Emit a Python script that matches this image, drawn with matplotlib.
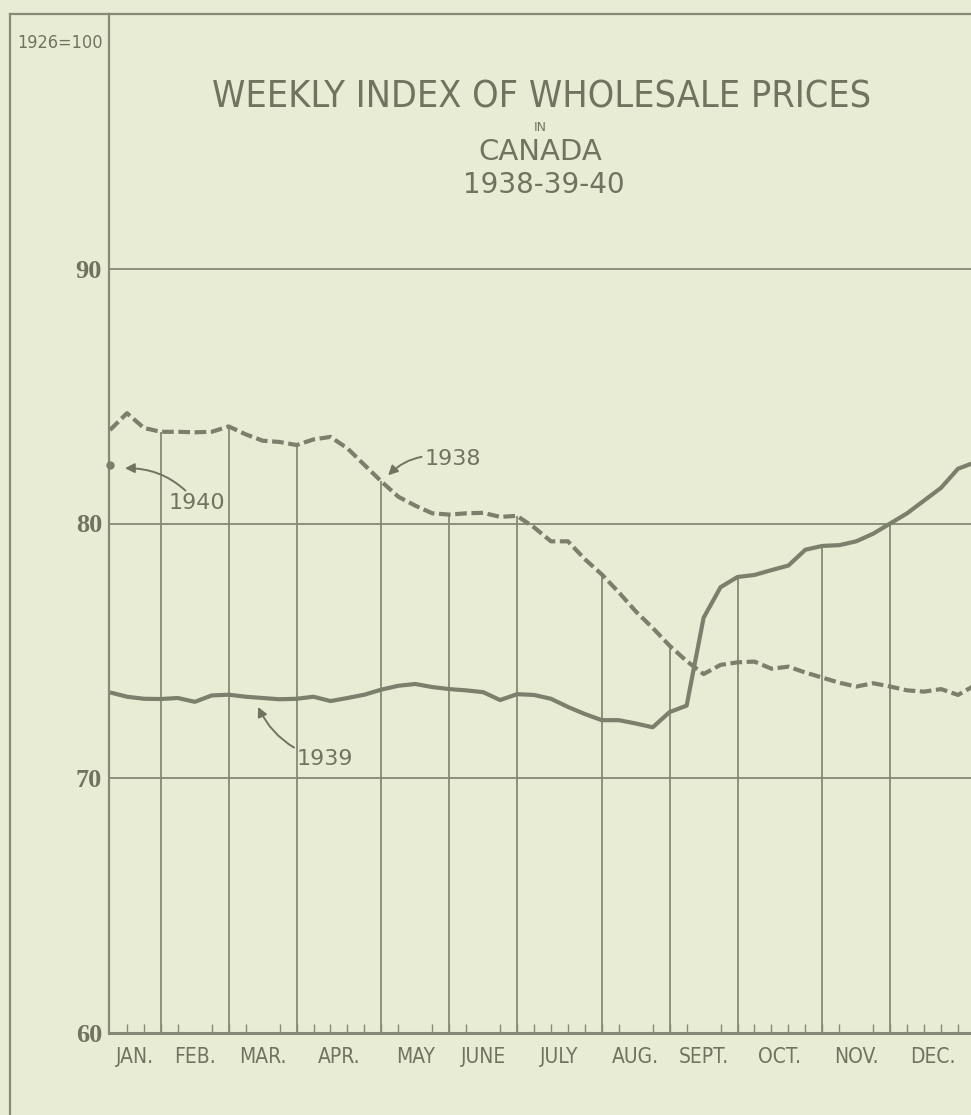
import matplotlib
matplotlib.use("Agg")
import matplotlib.pyplot as plt
from matplotlib.lines import Line2D
from matplotlib.font_manager import FontProperties
import matplotlib.font_manager as fm
import numpy as np

# ---------------- data ----------------
weeks = list(range(52))
index_1938 = [83.67, 84.33, 83.75, 83.60, 83.60, 83.58, 83.60, 83.81, 83.50, 83.25,
              83.20, 83.08, 83.30, 83.40, 82.95, 82.30, 81.65, 81.05, 80.70, 80.40,
              80.35, 80.40, 80.42, 80.26, 80.30, 79.85, 79.30, 79.30, 78.60, 78.00,
              77.30, 76.55, 75.90, 75.20, 74.60, 74.09, 74.45, 74.55, 74.58, 74.30,
              74.38, 74.15, 73.95, 73.75, 73.60, 73.73, 73.60, 73.45, 73.40, 73.50,
              73.27, 73.65]
index_1939 = [73.37, 73.20, 73.12, 73.11, 73.15, 73.00, 73.25, 73.28, 73.20, 73.15,
              73.10, 73.12, 73.20, 73.03, 73.15, 73.28, 73.48, 73.63, 73.70, 73.58,
              73.50, 73.45, 73.38, 73.07, 73.30, 73.27, 73.12, 72.80, 72.52, 72.28,
              72.28, 72.15, 72.00, 72.60, 72.85, 76.30, 77.50, 77.90, 77.98, 78.17,
              78.35, 78.97, 79.12, 79.15, 79.30, 79.60, 80.00, 80.40, 80.90, 81.40,
              82.15, 82.40]
weeks_1940 = [0]
index_1940 = [82.3]
months = ["JAN.", "FEB.", "MAR.", "APR.", "MAY", "JUNE", "JULY", "AUG.",
          "SEPT.", "OCT.", "NOV.", "DEC."]
weeks_per_month = [3, 4, 4, 5, 4, 4, 5, 4, 4, 5, 4, 5]
y_ticks = [60, 70, 80, 90]

# ---------------- style ----------------
BG = "#e8ecd4"
INK = "#70745f"
LINE = "#7b806c"
GRID = "#858a76"

# find a condensed sans face if one is installed
cond_path = None
prefs = ["liberationsansnarrow-regular", "dejavusanscondensed.ttf",
         "robotocondensed-regular", "opensans_condensed-regular",
         "opensans-condensedregular", "notosans-condensed"]
files = [f.fname for f in fm.fontManager.ttflist]
for p in prefs:
    for fn in files:
        if p in fn.lower().replace(" ", ""):
            cond_path = fn
            break
    if cond_path:
        break
if cond_path is None:
    for fn in files:
        low = fn.lower()
        if ("condensed" in low or "narrow" in low) and not any(
                k in low for k in ["bold", "italic", "oblique", "serif", "mono", "light",
                                   "black", "semi", "medium", "thin", "extra"]):
            cond_path = fn
            break

def narrow(size):
    if cond_path:
        return FontProperties(fname=cond_path, size=size)
    return FontProperties(family="DejaVu Sans", size=size * 0.85)

SANS = "DejaVu Sans"
SERIF = "Liberation Serif"

W, H = 971, 1115
fig = plt.figure(figsize=(W / 100, H / 100), dpi=100, facecolor=BG)
ax_l, ax_r, ax_t, ax_b = 109, 971, 14, 1033
ax = fig.add_axes([ax_l / W, 1 - ax_b / H, (ax_r - ax_l) / W, (ax_b - ax_t) / H])
ax.set_facecolor(BG)

px_per_week = 16.96
ax.set_xlim(-(110 - ax_l) / px_per_week, (ax_r - 110) / px_per_week)
ax.set_ylim(60, 100)

# horizontal grid
for v in [70, 80, 90]:
    ax.axhline(v, color=GRID, lw=1.3, zorder=1)

# month boundaries: vertical lines up to the upper curve
bounds = np.concatenate([[0], np.cumsum(weeks_per_month)])
for b in bounds[1:-1]:
    top = max(index_1938[b], index_1939[b])
    ax.vlines(weeks[b], 60, top, color=GRID, lw=1.3, zorder=1)

# curves
ax.plot(weeks, index_1938, color=LINE, lw=3.0, linestyle=(0, (2.8, 1.1)),
        solid_joinstyle="round", zorder=3)
ax.plot(weeks, index_1939, color=LINE, lw=3.0, solid_joinstyle="round",
        solid_capstyle="butt", zorder=3)
ax.plot(weeks_1940, index_1940, "o", color=LINE, ms=5, zorder=4, clip_on=False)

# spines
ax.spines["right"].set_visible(False)
for s in ["top", "left"]:
    ax.spines[s].set_color(GRID)
    ax.spines[s].set_linewidth(1.6)
ax.spines["bottom"].set_color(GRID)
ax.spines["bottom"].set_linewidth(2.2)

# ticks
centers = [(bounds[i] + bounds[i + 1]) / 2 for i in range(12)]
ax.set_xticks(centers)
ax.set_xticklabels(months, fontproperties=narrow(15), color=INK)
ax.set_xticks(weeks[1:51], minor=True)
ax.tick_params(axis="x", which="major", length=0, pad=10)
ax.tick_params(axis="x", which="minor", direction="in", length=6.5, width=1.0,
               color=GRID)
ax.set_yticks(y_ticks)
ax.set_yticklabels([str(v) for v in y_ticks], fontfamily=SERIF, fontweight="bold",
                   fontsize=19, color=INK)
ax.tick_params(axis="y", length=0, pad=5)

# annotations
arrow_kw = dict(arrowstyle="-|>", color=INK, lw=1.4, mutation_scale=14,
                shrinkA=0, shrinkB=0)
ax.annotate("1940", xy=(0.88, 82.17), xytext=(5.13, 80.79), ha="center", va="center",
            fontsize=16, fontfamily=SANS, color=INK,
            arrowprops=dict(connectionstyle="arc3,rad=0.25", **arrow_kw))
ax.annotate("1938", xy=(16.4, 81.89), xytext=(20.2, 82.52), ha="center", va="center",
            fontsize=16, fontfamily=SANS, color=INK,
            arrowprops=dict(connectionstyle="arc3,rad=0.3", **arrow_kw))
ax.annotate("1939", xy=(8.73, 72.8), xytext=(12.68, 70.75), ha="center", va="center",
            fontsize=16, fontfamily=SANS, color=INK,
            arrowprops=dict(connectionstyle="arc3,rad=-0.25", **arrow_kw))

# outer frame
fig.add_artist(Line2D([10 / W, 10 / W], [1 - 14 / H, 0], transform=fig.transFigure,
                      color=GRID, lw=1.6))
fig.add_artist(Line2D([10 / W, ax_l / W], [1 - 14 / H, 1 - 14 / H],
                      transform=fig.transFigure, color=GRID, lw=1.6))

# texts
fig.text(60 / W, 1 - 48 / H, "1926=100", ha="center", va="baseline",
         fontproperties=narrow(13), color=INK)
fig.text(542 / W, 1 - 108 / H, "WEEKLY INDEX OF WHOLESALE PRICES", ha="center",
         va="baseline", fontproperties=narrow(27), color=INK)
fig.text(540 / W, 1 - 131 / H, "IN", ha="center", va="baseline",
         fontfamily=SANS, fontsize=9, color=INK)
fig.text(540 / W, 1 - 160 / H, "CANADA", ha="center", va="baseline",
         fontfamily=SANS, fontsize=21, color=INK)
fig.text(544 / W, 1 - 193 / H, "1938-39-40", ha="center", va="baseline",
         fontfamily=SANS, fontsize=20, color=INK)

fig.savefig("out.png", dpi=100, facecolor=BG)
